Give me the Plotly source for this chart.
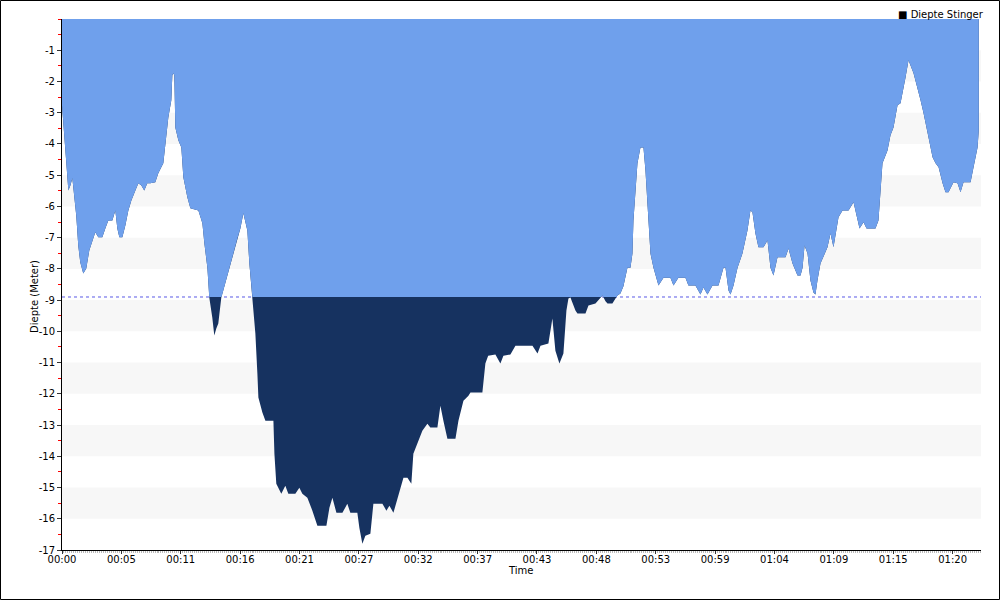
import numpy as np
import plotly.graph_objects as go

# ---------------- data (time in minutes, depth in metres) ----------------
time_min = [0.00, 0.12, 0.21, 0.39, 0.57, 0.75, 0.93, 1.11, 1.28, 1.46, 1.64, 1.91, 2.18, 2.45, 2.72,
            2.99, 3.26, 3.62, 3.89, 4.16, 4.52, 4.79, 4.97, 5.15, 5.42, 5.69, 5.96, 6.23, 6.59, 6.86,
            7.13, 7.39, 7.66, 7.93, 8.38, 8.65, 9.10, 9.28, 9.55, 9.82, 9.91, 10.00, 10.09, 10.18, 10.45,
            10.72, 10.90, 11.26, 11.53, 12.25, 12.61, 12.79, 13.06, 13.23, 13.50, 13.68, 13.86, 14.04, 14.31,
            14.49, 14.76, 15.03, 15.30, 15.75, 16.02, 16.29, 16.47, 16.65, 16.83, 17.10, 17.37, 17.55, 17.64,
            18.00, 18.27, 18.99, 19.08, 19.25, 19.52, 19.70, 20.06, 20.33, 20.96, 21.32, 21.59, 22.04, 22.49,
            22.94, 23.75, 24.02, 24.29, 24.65, 25.19, 25.63, 25.90, 26.53, 26.71, 26.98, 27.25, 27.70, 27.97,
            28.78, 29.14, 29.41, 29.77, 30.13, 30.67, 31.03, 31.38, 31.56, 31.92, 32.37, 32.82, 33.09, 33.72,
            33.99, 34.26, 34.62, 35.34, 35.61, 36.06, 36.51, 36.69, 37.76, 38.03, 38.28, 38.93, 39.38, 39.65,
            40.28, 40.73, 42.26, 42.71, 42.98, 43.69, 44.05, 44.32, 44.68, 45.04, 45.31, 45.49, 45.67, 46.12,
            46.30, 47.02, 47.29, 47.92, 48.55, 48.82, 49.00, 49.44, 49.89, 50.16, 50.43, 50.79, 51.06, 51.24,
            51.33, 51.69, 51.96, 52.23, 52.41, 52.68, 52.86, 53.13, 53.58, 54.03, 54.65, 54.93, 55.37, 56.00,
            56.27, 56.90, 57.35, 57.62, 57.98, 58.43, 58.97, 59.42, 59.60, 59.87, 60.05, 60.32, 60.68, 61.12,
            61.57, 61.84, 62.02, 62.29, 62.56, 63.01, 63.37, 63.64, 63.91, 64.27, 64.99, 65.26, 65.62, 66.07,
            66.34, 66.52, 66.70, 66.97, 67.23, 67.50, 67.68, 67.86, 68.13, 68.76, 69.03, 69.30, 69.75, 70.11,
            70.65, 71.10, 71.46, 71.64, 72.00, 72.27, 73.07, 73.34, 73.70, 74.15, 74.42, 74.69, 75.05, 75.32,
            75.77, 76.04, 76.49, 76.85, 77.12, 77.39, 77.75, 78.20, 78.47, 78.74, 79.10, 79.36, 79.63, 80.08,
            80.44, 80.71, 80.98, 81.61, 81.88, 82.24, 82.35]

depth_m = [-2.76, -3.40, -3.98, -4.62, -5.49, -5.33, -5.10, -5.65, -6.29, -7.25, -7.79, -8.15, -7.99, -7.41, -7.09,
           -6.83, -6.99, -6.99, -6.71, -6.45, -6.45, -6.13, -6.71, -6.99, -6.99, -6.61, -6.13, -5.81, -5.49, -5.26,
           -5.33, -5.49, -5.26, -5.26, -5.23, -4.94, -4.62, -3.98, -3.15, -2.60, -1.80, -1.74, -1.80, -3.47, -3.88,
           -4.11, -5.07, -5.71, -6.06, -6.13, -6.54, -7.19, -7.96, -8.92, -9.56, -10.13, -9.91, -9.75, -8.92,
           -8.69, -8.31, -7.96, -7.63, -7.03, -6.71, -6.22, -6.51, -6.77, -7.83, -8.92, -10.07, -11.35, -12.12,
           -12.60, -12.86, -12.86, -13.92, -14.88, -15.10, -15.20, -14.94, -15.20, -15.20, -15.01, -15.20, -15.33, -15.74,
           -16.22, -16.22, -15.65, -15.33, -15.81, -15.81, -15.52, -15.81, -15.81, -16.29, -16.80, -16.54, -16.48, -15.52,
           -15.52, -15.74, -15.58, -15.81, -15.33, -14.69, -14.69, -14.88, -13.92, -13.60, -13.18, -12.96, -13.08, -13.08,
           -12.38, -12.86, -13.44, -13.44, -12.86, -12.22, -12.06, -11.96, -11.96, -11.03, -10.78, -10.74, -11.03, -10.78,
           -10.74, -10.46, -10.46, -10.71, -10.46, -10.39, -9.59, -10.62, -11.03, -10.71, -9.33, -8.95, -8.92, -9.33,
           -9.43, -9.43, -9.17, -9.11, -8.85, -9.04, -9.11, -9.11, -8.85, -8.79, -8.56, -7.96, -7.96, -7.51,
           -6.45, -4.62, -4.11, -4.11, -4.85, -6.45, -7.51, -7.96, -8.53, -8.28, -8.28, -8.53, -8.28, -8.28,
           -8.53, -8.53, -8.82, -8.60, -8.82, -8.53, -8.53, -7.96, -7.96, -8.69, -8.82, -8.53, -7.96, -7.51,
           -6.77, -6.13, -6.19, -6.87, -7.31, -7.31, -7.09, -7.96, -8.21, -7.63, -7.63, -7.35, -7.83, -8.21,
           -8.21, -7.96, -7.25, -7.51, -8.37, -8.76, -8.82, -8.37, -7.83, -7.31, -6.87, -7.31, -6.35, -6.13,
           -6.13, -5.87, -6.38, -6.71, -6.51, -6.71, -6.71, -6.45, -4.62, -4.21, -3.72, -3.47, -2.76, -2.70,
           -1.87, -1.32, -1.74, -2.19, -2.60, -3.02, -3.66, -4.43, -4.62, -4.75, -5.26, -5.55, -5.55, -5.23,
           -5.26, -5.55, -5.23, -5.23, -4.75, -4.11, -3.56]

threshold_m = -8.9
series_name = "Diepte Stinger"

x_tick_minutes = [0, 16/3, 32/3, 16, 64/3, 80/3, 32, 112/3, 128/3, 48, 160/3, 176/3, 64, 208/3, 224/3, 80]
x_tick_labels = ["00:00", "00:05", "00:11", "00:16", "00:21", "00:27", "00:32", "00:37",
                 "00:43", "00:48", "00:53", "00:59", "01:04", "01:09", "01:15", "01:20"]
y_tick_values = [-1, -2, -3, -4, -5, -6, -7, -8, -9, -10, -11, -12, -13, -14, -15, -16, -17]
y_tick_labels = [str(v) for v in y_tick_values]

# ---------------- split the profile at the threshold ----------------
t = np.array(time_min, dtype=float)
d = np.array(depth_m, dtype=float)
tt, dd = [t[0]], [d[0]]
for i in range(1, len(t)):
    d0, d1 = d[i - 1], d[i]
    if (d0 - threshold_m) * (d1 - threshold_m) < 0:
        f = (threshold_m - d0) / (d1 - d0)
        tt.append(t[i - 1] + f * (t[i] - t[i - 1]))
        dd.append(threshold_m)
    tt.append(t[i])
    dd.append(d[i])
tt = np.array(tt)
dd = np.array(dd)
shallow = np.maximum(dd, threshold_m)

LIGHT = "#6FA0EC"
DARK = "#163260"
FONT = "DejaVu Sans"

fig = go.Figure()
fig.add_trace(go.Scatter(x=tt, y=dd, mode="lines", fill="tozeroy", fillcolor=DARK,
                         line=dict(width=0, color=DARK), showlegend=False, hoverinfo="skip"))
fig.add_trace(go.Scatter(x=tt, y=shallow, mode="lines", fill="tozeroy", fillcolor=LIGHT,
                         line=dict(width=0, color=LIGHT), showlegend=False, hoverinfo="skip"))

# alternating horizontal bands
shapes = []
for k in range(1, 17, 2):
    shapes.append(dict(type="rect", xref="paper", x0=0, x1=1, yref="y", y0=-k - 1, y1=-k,
                       fillcolor="#F7F7F7", line=dict(width=0), layer="below"))
# threshold line
shapes.append(dict(type="line", xref="paper", x0=0, x1=1, yref="y", y0=threshold_m, y1=threshold_m,
                   line=dict(color="#5A5AE6", width=1, dash="dot"), layer="below"))

# outer frame around the whole picture
L, R, T, B = 62, 19, 19, 50
PW, PH = 1000 - L - R, 600 - T - B
def px(xp): return (xp - L) / PW
def py(yp): return (600 - B - yp) / PH
shapes.append(dict(type="rect", xref="paper", yref="paper",
                   x0=px(0.5), x1=px(999.5), y0=py(599.5), y1=py(0.5),
                   line=dict(color="black", width=1), fillcolor="rgba(0,0,0,0)", layer="above"))

fig.update_layout(
    width=1000, height=600,
    margin=dict(l=L, r=R, t=T, b=B, pad=0),
    paper_bgcolor="white", plot_bgcolor="white",
    font=dict(family=FONT, size=10, color="black"),
    shapes=shapes,
    showlegend=False,
    xaxis=dict(range=[0, 82.55], tickmode="array", tickvals=x_tick_minutes, ticktext=x_tick_labels,
               showgrid=False, zeroline=False, showline=True, linecolor="black", linewidth=1,
               ticks="outside", ticklen=3, tickcolor="#333333", ticklabelstandoff=-3,
               tickfont=dict(family=FONT, size=10, color="black"),
               minor=dict(dtick=16/90, tick0=0, ticks="outside", ticklen=2, tickcolor="#BBBBBB", showgrid=False)),
    yaxis=dict(range=[-17, 0], tickmode="array", tickvals=y_tick_values, ticktext=y_tick_labels,
               showgrid=False, zeroline=False, showline=True, linecolor="black", linewidth=1,
               ticks="outside", ticklen=4, tickcolor="#333333",
               tickfont=dict(family=FONT, size=10, color="black"),
               minor=dict(dtick=0.5, tick0=0, ticks="outside", ticklen=3, tickcolor="red", showgrid=False)),
    annotations=[
        dict(text="Diepte (Meter)", xref="paper", yref="paper", x=px(34), y=py(297),
             textangle=-90, showarrow=False, xanchor="center", yanchor="middle",
             font=dict(family=FONT, size=10, color="black")),
        dict(text="Time", xref="paper", yref="paper", x=px(520), y=py(570),
             showarrow=False, xanchor="center", yanchor="middle",
             font=dict(family=FONT, size=10, color="black")),
        dict(text="■ " + series_name, xref="paper", yref="paper", x=px(986), y=py(15),
             showarrow=False, xanchor="right", yanchor="middle",
             font=dict(family=FONT, size=10, color="black")),
    ],
)

fig.write_html("out.html", config={"displayModeBar": False},
               post_script="document.body.style.margin='0';document.body.style.padding='0';")
